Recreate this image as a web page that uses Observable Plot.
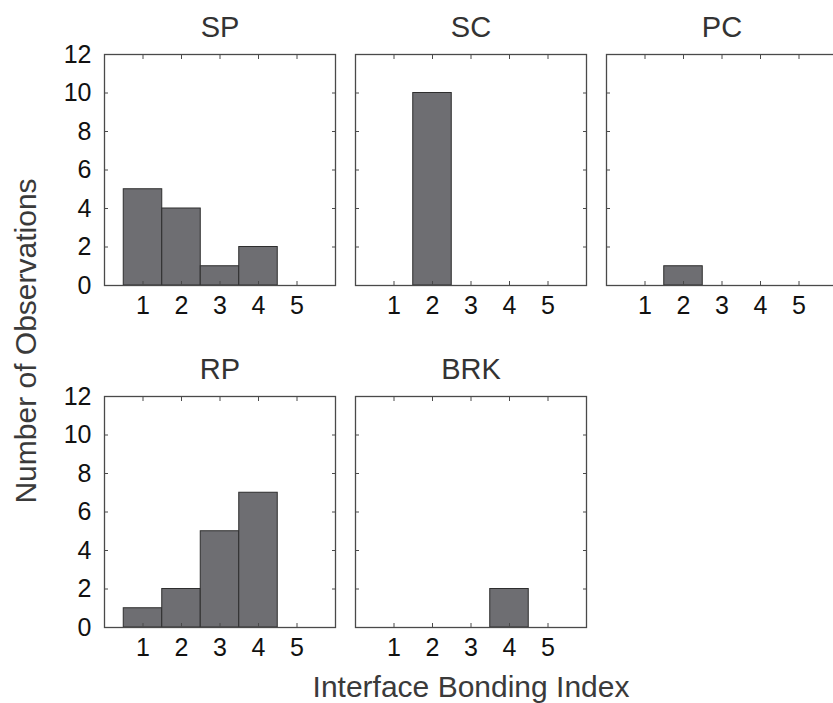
<!DOCTYPE html>
<html>
<head>
<meta charset="utf-8">
<script src="https://cdn.jsdelivr.net/npm/d3@7"></script>
<script src="https://cdn.jsdelivr.net/npm/@observablehq/plot@0.6"></script>
<style>
  html, body { margin: 0; padding: 0; background: #fff; overflow: hidden; }
  #chart svg { display: block; }
</style>
</head>
<body>
<div id="chart"></div>
<script>
// Panels, in reading order (three per row)
const panels = ["SP", "SC", "PC", "RP", "BRK"];
// Interface bonding index categories
const indices = [1, 2, 3, 4, 5];
// Number of observations per index, one list per panel
const countsSP  = [5, 4, 1, 2, 0];
const countsSC  = [0, 10, 0, 0, 0];
const countsPC  = [0, 1, 0, 0, 0];
const countsRP  = [1, 2, 5, 7, 0];
const countsBRK = [0, 0, 0, 2, 0];
// Axis ticks
const xTicks = [1, 2, 3, 4, 5];
const yTicks = [0, 2, 4, 6, 8, 10, 12];

const seriesByPanel = {SP: countsSP, SC: countsSC, PC: countsPC, RP: countsRP, BRK: countsBRK};

const perRow = 3;
const col = (name) => panels.indexOf(name) % perRow;
const row = (name) => Math.floor(panels.indexOf(name) / perRow);

const rows = panels.flatMap((name) =>
  indices.map((idx, j) => ({
    panel: name,
    col: col(name),
    row: row(name),
    index: idx,
    count: seriesByPanel[name][j]
  }))
);
const titles = panels.map((name) => ({panel: name, col: col(name), row: row(name)}));

const ink = "#222";
const frameColor = "#4a4a4a";
const tick = 4; // inward tick length

const chart = Plot.plot({
  width: 833,
  height: 703,
  marginTop: 54,
  marginBottom: 76,
  marginLeft: 103,
  marginRight: -5,
  style: {fontFamily: "'Liberation Sans', Arial, sans-serif", color: ink, background: "#fff"},
  fx: {domain: [0, 1, 2], paddingInner: 0.08, paddingOuter: 0},
  fy: {domain: [0, 1], paddingInner: 0.325, paddingOuter: 0},
  x: {domain: [0, 6]},
  y: {domain: [0, 12]},
  marks: [
    Plot.rectY(rows, {
      fx: "col", fy: "row",
      x1: (d) => d.index - 0.5,
      x2: (d) => d.index + 0.5,
      y: "count",
      fill: "#6e6e72",
      stroke: "#2e2e2e",
      strokeWidth: 1
    }),
    Plot.frame({stroke: frameColor, strokeWidth: 1.3}),
    // inward tick marks on all four sides
    Plot.axisX(xTicks, {anchor: "bottom", tickSize: tick, insetBottom: tick, fill: "none", label: null, facetAnchor: null, stroke: frameColor}),
    Plot.axisX(xTicks, {anchor: "top", tickSize: tick, insetTop: tick, fill: "none", label: null, facetAnchor: null, stroke: frameColor}),
    Plot.axisY(yTicks, {anchor: "left", tickSize: tick, insetLeft: tick, fill: "none", label: null, facetAnchor: null, stroke: frameColor}),
    Plot.axisY(yTicks, {anchor: "right", tickSize: tick, insetRight: tick, fill: "none", label: null, facetAnchor: null, stroke: frameColor}),
    // tick labels
    Plot.axisX(xTicks, {anchor: "bottom", tickSize: 0, tickPadding: 11, fontSize: 25, label: null, facetAnchor: null, fill: "#111"}),
    Plot.axisY(yTicks, {anchor: "left", tickSize: 0, tickPadding: 13, fontSize: 25, label: null, facetAnchor: "left", fill: "#111"}),
    // panel titles
    Plot.text(titles, {
      fx: "col", fy: "row",
      text: "panel",
      frameAnchor: "top",
      lineAnchor: "bottom",
      dy: -18,
      fontSize: 29,
      fill: "#333"
    }),
    // shared axis titles
    Plot.axisFx({anchor: "bottom", tickSize: 0, tickFormat: () => "", label: "Interface Bonding Index",
      labelAnchor: "center", labelOffset: 69, fontSize: 30, fill: "#3a3a3a"}),
    Plot.axisFy({anchor: "left", tickSize: 0, tickFormat: () => "", label: "Number of Observations",
      labelAnchor: "center", labelOffset: 90, fontSize: 30, fill: "#3a3a3a"})
  ]
});

document.getElementById("chart").appendChild(chart);
</script>
</body>
</html>
